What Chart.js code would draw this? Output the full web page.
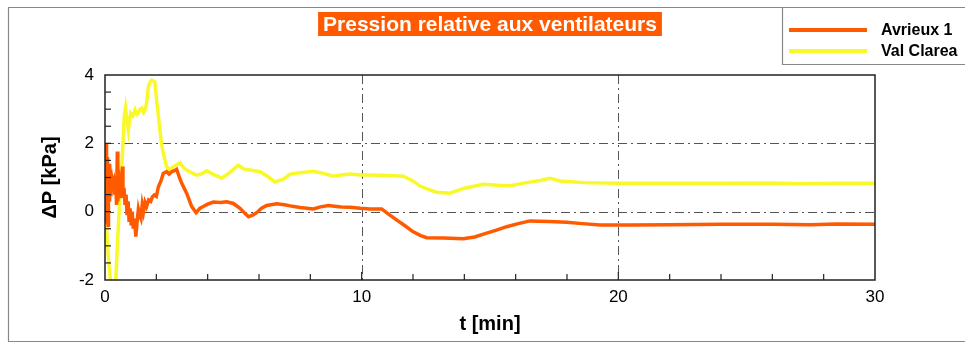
<!DOCTYPE html>
<html>
<head>
<meta charset="utf-8">
<script src="https://cdn.jsdelivr.net/npm/chart.js@4.4.0/dist/chart.umd.min.js"></script>
<style>
  body { margin: 0; background: #fff; }
  #wrap { width: 965px; height: 345px; position: relative; }
</style>
</head>
<body>
<div id="wrap"><canvas id="pressChart"></canvas></div>
<script>
// Avrieux 1 : time [min] / relative pressure [kPa]
const tAvrieux = [0.0, 0.01, 0.02, 0.03, 0.04, 0.05, 0.06, 0.07, 0.08, 0.09, 0.10, 0.11, 0.12, 0.13, 0.14,
  0.16, 0.17, 0.19, 0.20, 0.23, 0.26, 0.30, 0.34, 0.38,
  0.42, 0.45, 0.48, 0.50, 0.53, 0.56, 0.60, 0.64, 0.68, 0.70, 0.74, 0.78, 0.82, 0.86, 0.90, 0.94, 0.98,
  1.02, 1.06, 1.10, 1.15, 1.20, 1.25, 1.30, 1.35, 1.40, 1.45, 1.50, 1.56, 1.62, 1.70, 1.78, 1.85, 1.92,
  2.00, 2.08, 2.18, 2.27, 2.40, 2.50, 2.60, 2.70, 2.79, 2.90, 2.99, 3.18, 3.38, 3.55, 3.70, 3.83, 4.0,
  4.22, 4.5, 4.74, 5.0, 5.26, 5.45, 5.59, 5.75, 5.91, 6.1, 6.3, 6.69, 7.0, 7.21, 7.6, 8.12, 8.4, 8.7,
  9.2, 9.55, 9.94, 10.32, 10.78, 11.1, 11.36, 11.7, 12.01, 12.3, 12.53, 13.18, 13.96, 14.4, 14.87,
  15.25, 15.65, 16.1, 16.56, 17.3, 17.99, 18.6, 19.29, 20.5, 22, 24, 26, 27.5, 28.5, 30];
const pAvrieux = [0.3, 2.0, -0.3, 1.8, -0.1, 2.0, 0.0, 1.7, -0.3, 1.5, 0.1, 1.6, -0.4, 1.3, 0.2,
  1.2, 0.3, 1.4, 0.5, 0.9, 1.0, 0.8, 0.9, 0.5,
  0.9, 0.2, 1.76, 0.3, 1.1, 0.4, 0.8, 0.6, 1.32, 0.4, 0.7, 0.2, 0.5, -0.1, 0.3, -0.3, 0.1,
  -0.4, 0.0, -0.5, -0.2, -0.73, -0.3, 0.07, -0.1, -0.2, 0.2, 0.0, 0.27, 0.15, 0.34, 0.3, 0.44, 0.49,
  0.45, 0.73, 0.9, 1.12, 1.17, 1.1, 1.17, 1.2, 1.24, 1.0, 0.83, 0.54, 0.15, -0.03, 0.1, 0.15, 0.22,
  0.28, 0.27, 0.29, 0.24, 0.1, -0.05, -0.15, -0.1, -0.03, 0.1, 0.18, 0.23, 0.2, 0.17, 0.12, 0.08, 0.14, 0.18,
  0.14, 0.13, 0.1, 0.08, 0.08, -0.1, -0.24, -0.42, -0.59, -0.7, -0.76, -0.77, -0.79, -0.74, -0.63,
  -0.54, -0.44, -0.35, -0.27, -0.29, -0.31, -0.35, -0.39, -0.39, -0.38, -0.37, -0.37, -0.38, -0.36, -0.37];

// Val Clarea
const tClarea = [0.0, 0.02, 0.04, 0.08, 0.12, 0.16, 0.20, 0.24, 0.30, 0.36, 0.42, 0.47, 0.52, 0.58, 0.65,
  0.70, 0.75, 0.80, 0.85, 0.91, 0.96, 1.0, 1.08, 1.17, 1.24, 1.30, 1.36, 1.43, 1.50, 1.56, 1.62, 1.69,
  1.76, 1.82, 1.94, 2.01, 2.08, 2.14, 2.20, 2.27, 2.40, 2.53, 2.66, 2.79, 2.92, 3.05, 3.18, 3.35, 3.57,
  3.75, 3.96, 4.2, 4.55, 4.87, 5.19, 5.40, 5.65, 6.04, 6.3, 6.62, 6.95, 7.21, 7.6, 8.12, 8.5, 8.9, 9.2,
  9.55, 9.94, 10.32, 11.0, 11.62, 12.0, 12.27, 12.6, 12.92, 13.44, 13.96, 14.74, 15.3, 15.78, 16.43,
  17.0, 17.33, 17.73, 18.64, 19.94, 22, 24, 26, 27, 28.5, 30];
const pClarea = [0.0, -0.3, -0.15, -0.7, -1.2, -1.6, -1.9, -2.3, -2.6, -2.4, -2.0, -1.2, -0.44, 0.4, 1.22,
  2.0, 2.78, 3.03, 2.7, 2.39, 2.7, 2.88, 2.8, 2.98, 2.85, 2.88, 3.0, 3.03, 2.9, 2.98, 3.17, 3.66,
  3.8, 3.85, 3.8, 3.27, 2.8, 2.39, 2.0, 1.71, 1.32, 1.22, 1.32, 1.37, 1.43, 1.3, 1.22, 1.15, 1.07,
  1.1, 1.2, 1.1, 0.98, 1.15, 1.36, 1.25, 1.22, 1.17, 1.05, 0.87, 0.95, 1.1, 1.14, 1.18, 1.12, 1.04, 1.07,
  1.1, 1.07, 1.07, 1.06, 1.04, 0.9, 0.75, 0.65, 0.57, 0.54, 0.68, 0.8, 0.77, 0.76, 0.85,
  0.92, 0.98, 0.9, 0.85, 0.83, 0.83, 0.83, 0.84, 0.82, 0.83, 0.83];

const seriesNames = ['Avrieux 1', 'Val Clarea'];
const titleText = 'Pression relative aux ventilateurs';
const xTicks = [0, 10, 20, 30];
const yTicks = [-2, 0, 2, 4];

const ORANGE = '#ff5a00';
const YELLOW = '#f9f92a';
const FONT = '"Liberation Sans", Arial, sans-serif';

const toPoints = (ts, ps) => ts.map((t, i) => ({ x: t, y: ps[i] }));

// frame, dash-dot grid, inner ticks, title box and legend box
const decorations = {
    id: 'decorations',
    beforeDraw(chart) {
        const c = chart.ctx;
        c.save();
        c.fillStyle = '#fff';
        c.fillRect(0, 0, chart.width, chart.height);
        c.restore();
    },
    beforeDatasetsDraw(chart) {
        const c = chart.ctx;
        const { left, right, top, bottom } = chart.chartArea;
        const xs = chart.scales.x, ys = chart.scales.y;
        c.save();
        c.strokeStyle = '#555';
        c.lineWidth = 1;
        c.setLineDash([9, 4, 2, 4]);
        [0, 2].forEach(v => {
            const y = Math.round(ys.getPixelForValue(v)) + 0.5;
            c.beginPath(); c.moveTo(left, y); c.lineTo(right, y); c.stroke();
        });
        [10, 20].forEach(v => {
            const x = Math.round(xs.getPixelForValue(v)) + 0.5;
            c.beginPath(); c.moveTo(x, top); c.lineTo(x, bottom); c.stroke();
        });
        c.restore();
    },
    afterDatasetsDraw(chart) {
        const c = chart.ctx;
        const { left, right, top, bottom } = chart.chartArea;
        const xs = chart.scales.x, ys = chart.scales.y;
        c.save();
        c.strokeStyle = '#222';
        c.lineWidth = 1.5;
        c.strokeRect(left, top, right - left, bottom - top);
        c.lineWidth = 1.2;
        for (let t = 2; t < 30; t += 2) {
            const x = xs.getPixelForValue(t);
            const len = t % 10 === 0 ? 8 : 6;
            c.beginPath(); c.moveTo(x, bottom); c.lineTo(x, bottom - len); c.stroke();
        }
        for (let v = -1.5; v < 4; v += 0.5) {
            const y = ys.getPixelForValue(v);
            c.beginPath(); c.moveTo(left, y); c.lineTo(left + 6, y); c.stroke();
        }

        // outer figure frame
        c.strokeStyle = '#888';
        c.lineWidth = 1.2;
        c.beginPath();
        c.moveTo(chart.width + 5, 7.5); c.lineTo(8.5, 7.5); c.lineTo(8.5, 341.5); c.lineTo(chart.width + 5, 341.5);
        c.stroke();

        // title
        c.font = 'bold 21px ' + FONT;
        const tw = c.measureText(titleText).width;
        const cx = (left + right) / 2;
        c.fillStyle = ORANGE;
        c.fillRect(cx - tw / 2 - 5, 12, tw + 10, 24);
        c.fillStyle = '#fff';
        c.textAlign = 'center';
        c.textBaseline = 'middle';
        c.fillText(titleText, cx, 25);

        // legend
        c.strokeStyle = '#888';
        c.beginPath();
        c.moveTo(782.5, 7.5); c.lineTo(782.5, 64.5); c.lineTo(chart.width + 5, 64.5);
        c.stroke();
        c.font = 'bold 16px ' + FONT;
        c.textAlign = 'left';
        chart.data.datasets.forEach((ds, i) => {
            const y = 30 + i * 21;
            c.strokeStyle = ds.borderColor;
            c.lineWidth = 4;
            c.beginPath(); c.moveTo(789, y); c.lineTo(867, y); c.stroke();
            c.fillStyle = '#000';
            c.fillText(ds.label, 881, y + 1);
        });
        c.restore();
    }
};

const ctx = document.getElementById('pressChart').getContext('2d');
const chart = new Chart(ctx, {
    type: 'line',
    data: {
        datasets: [
            {
            label: seriesNames[0],
            data: toPoints(tAvrieux, pAvrieux),
            borderColor: ORANGE,
            borderWidth: 3.5,
            pointRadius: 0,
            tension: 0
            },
            {
            label: seriesNames[1],
            data: toPoints(tClarea, pClarea),
            borderColor: YELLOW,
            borderWidth: 3.5,
            pointRadius: 0,
            tension: 0
            }
        ]
    },
    options: {
        responsive: true,
        maintainAspectRatio: false,
        animation: false,
        layout: { padding: { top: 75, right: 90, left: 0, bottom: 0 } },
        plugins: {
            legend: { display: false },
            tooltip: { enabled: false }
        },
        scales: {
            x: {
                type: 'linear',
                min: 0, max: 30,
                afterFit: s => { s.height = 65; },
                afterBuildTicks: s => { s.ticks = xTicks.map(v => ({ value: v })); },
                grid: { display: false, drawTicks: false },
                border: { display: false },
                ticks: { color: '#000', padding: 7, maxRotation: 0, font: { family: FONT, size: 17 } },
                title: { display: true, text: 't [min]', color: '#000', padding: { top: 0, bottom: 9 },
                         font: { family: FONT, size: 20, weight: 'bold' } }
            },
            y: {
                min: -2, max: 4,
                afterFit: s => { s.width = 105; },
                afterBuildTicks: s => { s.ticks = yTicks.map(v => ({ value: v })); },
                grid: { display: false, drawTicks: false },
                border: { display: false },
                ticks: { color: '#000', padding: 11, font: { family: FONT, size: 17 } },
                title: { display: true, text: 'ΔP [kPa]', color: '#000', padding: { top: 38, bottom: 0 },
                         font: { family: FONT, size: 20, weight: 'bold' } }
            }
        }
    },
    plugins: [decorations]
});
</script>
</body>
</html>
